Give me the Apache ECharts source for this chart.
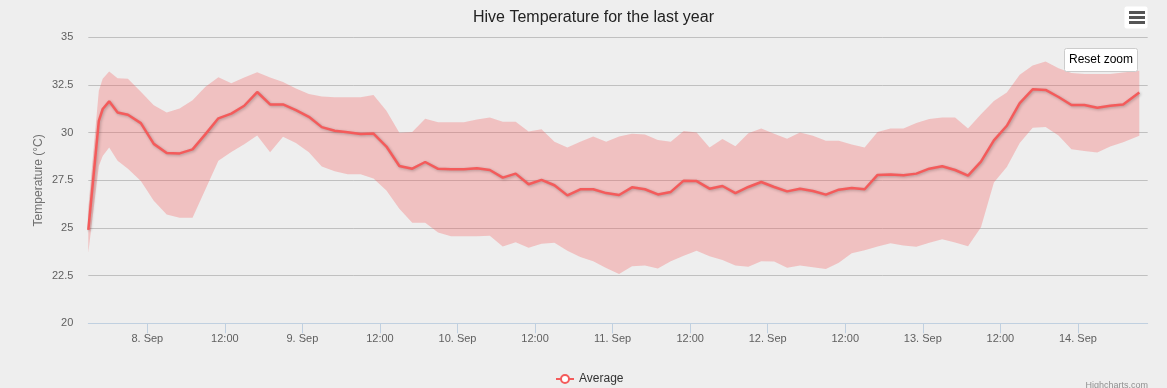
<!DOCTYPE html>
<html>
<head>
<meta charset="utf-8">
<script src="https://cdn.jsdelivr.net/npm/echarts@6/dist/echarts.min.js"></script>
<style>
html,body{margin:0;padding:0;background:#eeeeee;}
#chart{width:1167px;height:388px;}
</style>
</head>
<body>
<div id="chart"></div>
<script>
// hours relative to 8 Sep 00:00
const hours = [-9.13, -7.5, -6.9, -5.9, -4.6, -3, -1, 1, 3, 5, 7, 9, 11, 13, 15, 17, 19, 21, 23, 25, 27, 29, 31, 33, 35, 37, 39, 41, 43, 45, 47, 49, 51, 53, 55, 57, 59, 61, 63, 65, 67, 69, 71, 73, 75, 77, 79, 81, 83, 85, 87, 89, 91, 93, 95, 97, 99, 101, 103, 105, 107, 109, 111, 113, 115, 117, 119, 121, 123, 125, 127, 129, 131, 133, 135, 137, 139, 141, 143, 145, 147, 149, 151, 153.5];
const avgTemp = [24.9, 30.62, 31.24, 31.64, 31.06, 30.94, 30.5, 29.41, 28.93, 28.91, 29.12, 29.92, 30.75, 31.0, 31.41, 32.13, 31.48, 31.48, 31.18, 30.83, 30.29, 30.1, 30.02, 29.93, 29.95, 29.27, 28.25, 28.11, 28.46, 28.1, 28.08, 28.08, 28.13, 28.04, 27.64, 27.85, 27.29, 27.52, 27.24, 26.71, 27.03, 27.03, 26.83, 26.73, 27.13, 27.03, 26.76, 26.89, 27.48, 27.46, 27.06, 27.2, 26.83, 27.15, 27.41, 27.15, 26.92, 27.06, 26.94, 26.75, 27.01, 27.1, 27.03, 27.78, 27.8, 27.76, 27.85, 28.11, 28.24, 28.04, 27.75, 28.48, 29.59, 30.36, 31.55, 32.27, 32.24, 31.87, 31.45, 31.45, 31.31, 31.41, 31.48, 32.11];
const highTemp = [26.0, 32.2, 32.82, 33.2, 32.85, 32.82, 32.15, 31.43, 31.06, 31.26, 31.7, 32.4, 32.9, 32.59, 32.89, 33.17, 32.89, 32.66, 32.31, 32.03, 31.89, 31.85, 31.85, 31.85, 31.97, 31.15, 29.99, 30.03, 30.73, 30.54, 30.54, 30.54, 30.69, 30.8, 30.57, 30.57, 30.06, 30.18, 29.52, 29.22, 29.52, 29.8, 29.52, 29.8, 29.94, 29.9, 29.61, 29.52, 30.08, 30.01, 29.22, 29.66, 29.29, 29.97, 30.22, 29.94, 29.68, 30.01, 29.83, 29.57, 29.57, 29.38, 29.22, 30.03, 30.22, 30.22, 30.5, 30.71, 30.8, 30.8, 30.22, 30.97, 31.66, 32.11, 33.04, 33.52, 33.73, 33.38, 33.13, 33.08, 33.08, 33.08, 33.15, 33.25];
const lowTemp = [23.7, 28.25, 28.78, 29.22, 28.52, 28.11, 27.46, 26.43, 25.71, 25.54, 25.54, 27.03, 28.52, 28.99, 29.39, 29.85, 28.97, 29.78, 29.46, 28.97, 28.22, 27.97, 27.82, 27.82, 27.6, 26.96, 26.01, 25.27, 25.27, 24.76, 24.57, 24.57, 24.57, 24.59, 24.03, 24.25, 23.96, 24.17, 24.22, 23.8, 23.48, 23.25, 22.9, 22.59, 22.99, 23.03, 22.87, 23.25, 23.54, 23.8, 23.52, 23.32, 23.03, 22.97, 23.25, 23.24, 22.92, 23.03, 22.94, 22.85, 23.17, 23.68, 23.83, 24.03, 24.2, 24.08, 24.01, 24.22, 24.41, 24.24, 24.04, 25.04, 27.38, 28.2, 29.45, 30.25, 30.29, 29.85, 29.13, 29.04, 28.96, 29.27, 29.5, 29.83];
const tickHours = [0, 12, 24, 36, 48, 60, 72, 84, 96, 108, 120, 132, 144];
const tickLabels = ['8. Sep', '12:00', '9. Sep', '12:00', '10. Sep', '12:00', '11. Sep', '12:00', '12. Sep', '12:00', '13. Sep', '12:00', '14. Sep'];

const FONT = '"Liberation Sans", Arial, sans-serif';
const chart = echarts.init(document.getElementById('chart'), null, {renderer: 'canvas'});

function renderBand(params, api) {
  if (params.dataIndex !== 0) return;
  const pts = [];
  for (let i = 0; i < hours.length; i++) pts.push(api.coord([hours[i], highTemp[i]]));
  for (let i = hours.length - 1; i >= 0; i--) pts.push(api.coord([hours[i], lowTemp[i]]));
  return {type: 'polygon', shape: {points: pts}, style: {fill: 'rgba(244,91,91,0.3)', stroke: 'none'}};
}

const option = {
  animation: false,
  backgroundColor: '#eeeeee',
  textStyle: {fontFamily: FONT},
  title: {
    text: 'Hive Temperature for the last year',
    left: 468, top: 5,
    textStyle: {fontFamily: FONT, fontSize: 16, fontWeight: 'normal', color: '#222'}
  },
  legend: {
    data: ['Average'],
    left: 550, top: 368,
    itemWidth: 18, itemHeight: 10, itemGap: 5,
    textStyle: {fontFamily: FONT, fontSize: 12, color: '#333'}
  },
  grid: {left: 88.3, right: 19.3, top: 37.3, bottom: 64.7, containLabel: false},
  xAxis: {
    type: 'value',
    min: -9.13, max: 154.8,
    axisLine: {show: true, lineStyle: {color: '#C0D0E0', width: 1}},
    axisTick: {show: true, customValues: tickHours, length: 10, lineStyle: {color: '#C0D0E0'}},
    axisLabel: {
      customValues: tickHours, margin: 10,
      fontFamily: FONT, fontSize: 11, color: '#606060',
      formatter: v => tickLabels[tickHours.indexOf(v)]
    },
    splitLine: {show: false}
  },
  yAxis: {
    type: 'value', min: 20, max: 35, interval: 2.5,
    name: 'Temperature (°C)', nameLocation: 'middle', nameGap: 44, nameMoveOverlap: false,
    nameTextStyle: {fontFamily: FONT, fontSize: 12, color: '#707070'},
    axisLine: {show: false}, axisTick: {show: false},
    axisLabel: {fontFamily: FONT, fontSize: 11, color: '#606060', margin: 15},
    splitLine: {lineStyle: {color: '#C0C0C0', width: 1}}
  },
  series: [
    {
      name: 'Range', type: 'custom', silent: true,
      renderItem: renderBand,
      data: hours.map((h, i) => [h, lowTemp[i], highTemp[i]]),
      encode: {x: 0, y: [1, 2]},
      z: 1
    },
    {
      name: 'Average', type: 'line',
      data: hours.map((h, i) => [h, avgTemp[i]]),
      symbol: 'emptyCircle', showSymbol: false, symbolSize: 8,
      itemStyle: {color: '#f45b5b', borderWidth: 2},
      lineStyle: {width: 2.5, color: '#f45b5b', shadowColor: 'rgba(0,0,0,0.25)', shadowBlur: 3, shadowOffsetX: 1, shadowOffsetY: 1},
      z: 3
    }
  ],
  graphic: [
    {type: 'rect', shape: {x: 1124.5, y: 6.5, width: 23, height: 22, r: 2}, style: {fill: '#ffffff', stroke: 'none'}},
    {type: 'line', shape: {x1: 1129, y1: 12.5, x2: 1145, y2: 12.5}, style: {stroke: '#555', lineWidth: 3}},
    {type: 'line', shape: {x1: 1129, y1: 17.5, x2: 1145, y2: 17.5}, style: {stroke: '#555', lineWidth: 3}},
    {type: 'line', shape: {x1: 1129, y1: 22.5, x2: 1145, y2: 22.5}, style: {stroke: '#555', lineWidth: 3}},
    {type: 'rect', z: 100, shape: {x: 1064.5, y: 48.5, width: 73, height: 23, r: 2}, style: {fill: '#ffffff', stroke: '#cccccc', lineWidth: 1}},
    {type: 'text', z: 101, left: 1069, top: 54, style: {text: 'Reset zoom', fontFamily: FONT, fontSize: 12, fill: '#000'}},
    {type: 'text', right: 19, top: 381, style: {text: 'Highcharts.com', fontFamily: FONT, fontSize: 9, fill: '#909090'}}
  ]
};
chart.setOption(option);
</script>
</body>
</html>
